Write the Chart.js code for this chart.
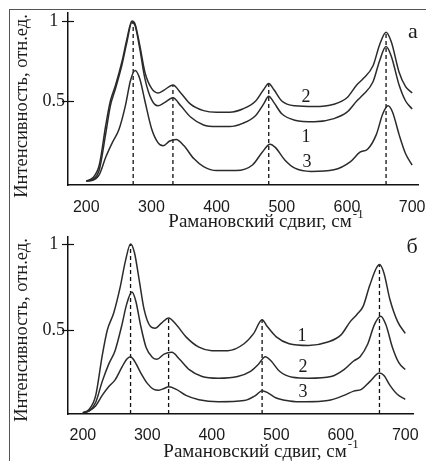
<!DOCTYPE html>
<html>
<head>
<meta charset="utf-8">
<script src="https://cdn.jsdelivr.net/npm/chart.js@4.4.0/dist/chart.umd.min.js"></script>
<style>
  body { margin: 0; background: #fff; width: 426px; height: 461px; overflow: hidden; }
  #frame { position: absolute; left: 9px; top: 9px; width: 430px; height: 460px;
           border-top: 1.5px solid #555; border-left: 1.5px solid #555; }
  .box { position: absolute; left: 0; width: 426px; }
</style>
</head>
<body>
<div id="frame"></div>
<div class="box" style="top:0;height:230px"><canvas id="chartA"></canvas></div>
<div class="box" style="top:230px;height:231px"><canvas id="chartB"></canvas></div>
<script>
// Спектры КР, панель а
const shiftA1 = [200, 210, 220, 230, 237, 245, 255, 262, 270, 275, 282, 290, 300, 310, 320, 333, 345, 360, 380, 400, 420, 440, 460, 472, 480, 488, 500, 520, 550, 580, 600, 615, 625, 640, 650, 660, 668, 680, 690, 700];
const intA1   = [0.0, 0.01, 0.07, 0.3, 0.47, 0.58, 0.73, 0.86, 0.99, 0.97, 0.83, 0.64, 0.51, 0.47, 0.49, 0.52, 0.47, 0.4, 0.35, 0.34, 0.34, 0.36, 0.41, 0.48, 0.53, 0.49, 0.42, 0.38, 0.37, 0.39, 0.43, 0.5, 0.54, 0.62, 0.75, 0.84, 0.78, 0.6, 0.5, 0.45];
const shiftA2 = [200, 210, 220, 230, 237, 245, 255, 262, 270, 275, 282, 290, 300, 310, 320, 333, 345, 360, 380, 400, 420, 440, 460, 472, 480, 488, 500, 520, 550, 580, 600, 615, 625, 640, 650, 660, 668, 680, 690, 700];
const intA2   = [0.0, 0.02, 0.1, 0.35, 0.5, 0.6, 0.75, 0.88, 1.0, 0.98, 0.85, 0.68, 0.58, 0.55, 0.57, 0.6, 0.55, 0.48, 0.44, 0.43, 0.43, 0.45, 0.5, 0.57, 0.61, 0.57, 0.5, 0.47, 0.465, 0.48, 0.52, 0.6, 0.64, 0.72, 0.85, 0.93, 0.87, 0.68, 0.59, 0.55];
const shiftA3 = [200, 210, 220, 230, 240, 250, 260, 268, 275, 282, 290, 300, 310, 318, 328, 338, 350, 365, 380, 400, 430, 455, 470, 482, 490, 505, 520, 545, 580, 605, 620, 632, 645, 655, 663, 670, 680, 690, 700];
const intA3   = [0.0, 0.005, 0.04, 0.15, 0.24, 0.32, 0.47, 0.63, 0.69, 0.64, 0.5, 0.33, 0.24, 0.22, 0.25, 0.26, 0.22, 0.14, 0.09, 0.065, 0.065, 0.1, 0.18, 0.23, 0.21, 0.13, 0.08, 0.06, 0.07, 0.12, 0.18, 0.2, 0.29, 0.42, 0.47, 0.43, 0.29, 0.17, 0.1];
const peaksA    = [272, 333, 480, 660];
const peakTopsA = [1.0, 0.6, 0.61, 0.93];

// Спектры КР, панель б
const shiftB1 = [200, 210, 220, 230, 238, 248, 258, 266, 274, 280, 287, 295, 305, 312, 322, 333, 345, 360, 380, 400, 425, 450, 465, 478, 486, 500, 520, 550, 580, 600, 615, 625, 635, 645, 660, 667, 676, 688, 700];
const intB1   = [0.02, 0.04, 0.12, 0.35, 0.5, 0.6, 0.75, 0.9, 1.0, 0.95, 0.8, 0.62, 0.52, 0.51, 0.54, 0.57, 0.53, 0.46, 0.4, 0.38, 0.38, 0.42, 0.48, 0.56, 0.52, 0.46, 0.42, 0.41, 0.43, 0.47, 0.55, 0.59, 0.64, 0.76, 0.88, 0.83, 0.68, 0.55, 0.48];
const shiftB2 = [200, 210, 220, 230, 240, 250, 260, 268, 276, 282, 290, 298, 308, 315, 326, 338, 350, 365, 385, 410, 440, 460, 472, 483, 492, 505, 525, 550, 585, 605, 620, 630, 642, 652, 662, 670, 680, 690, 700];
const intB2   = [0.02, 0.03, 0.08, 0.2, 0.3, 0.38, 0.52, 0.65, 0.72, 0.67, 0.52, 0.4, 0.34, 0.33, 0.36, 0.37, 0.33, 0.27, 0.23, 0.22, 0.23, 0.26, 0.3, 0.345, 0.32, 0.26, 0.225, 0.22, 0.23, 0.27, 0.32, 0.345, 0.42, 0.53, 0.58, 0.53, 0.4, 0.31, 0.27];
const shiftB3 = [200, 210, 220, 230, 240, 250, 260, 268, 274, 280, 290, 300, 310, 318, 326, 333, 345, 360, 380, 410, 450, 468, 478, 487, 500, 520, 545, 580, 605, 620, 632, 645, 660, 667, 676, 688, 700];
const intB3   = [0.02, 0.03, 0.06, 0.12, 0.17, 0.21, 0.28, 0.33, 0.345, 0.32, 0.25, 0.19, 0.155, 0.15, 0.16, 0.17, 0.155, 0.12, 0.095, 0.083, 0.09, 0.12, 0.147, 0.135, 0.105, 0.088, 0.083, 0.09, 0.12, 0.145, 0.155, 0.2, 0.25, 0.235, 0.18, 0.125, 0.097];
const peaksB    = [274, 333, 478, 660];
const peakTopsB = [1.0, 0.57, 0.56, 0.88];

const xTicks = [200, 300, 400, 500, 600, 700];
const yTicks = [0.5, 1];

const xTitle = 'Рамановский сдвиг, см';
const xTitleSup = '-1';
const yTitle = 'Интенсивность, отн.ед.';

const serif = '"Liberation Serif", "Times New Roman", serif';
const sans = '"Liberation Sans", Arial, sans-serif';

function toPoints(xs, ys) {
    return xs.map((x, i) => ({ x: x, y: ys[i] }));
}

// Подписи, штрихи на оси Y, заголовки осей
const decorPlugin = {
    id: 'decor',
    afterDraw(chart, args, opts) {
        const ctx = chart.ctx;
        const yScale = chart.scales.y;
        const area = chart.chartArea;
        ctx.save();
        ctx.strokeStyle = '#111';
        ctx.lineWidth = 1.2;
        yScale.ticks.forEach(t => {
            const py = Math.round(yScale.getPixelForValue(t.value)) + 0.5;
            ctx.beginPath();
            ctx.moveTo(area.left - 6, py);
            ctx.lineTo(area.left + 6, py);
            ctx.stroke();
        });

        ctx.fillStyle = '#1a1a1a';
        // заголовок оси Y
        ctx.save();
        ctx.translate(opts.yTitleX, opts.yTitleY);
        ctx.rotate(-Math.PI / 2);
        ctx.font = '18.5px ' + serif;
        ctx.textAlign = 'center';
        ctx.textBaseline = 'middle';
        ctx.fillText(yTitle, 0, 0);
        ctx.restore();

        // заголовок оси X с верхним индексом
        ctx.font = '19px ' + serif;
        const w1 = ctx.measureText(xTitle).width;
        ctx.font = '13px ' + serif;
        const w2 = ctx.measureText(xTitleSup).width;
        let sx = opts.xTitleX - (w1 + w2 + 1) / 2;
        ctx.textAlign = 'left';
        ctx.textBaseline = 'middle';
        ctx.font = '19px ' + serif;
        ctx.fillText(xTitle, sx, opts.xTitleY);
        ctx.font = '13px ' + serif;
        ctx.fillText(xTitleSup, sx + w1 + 1, opts.xTitleY - 7);

        // буква панели и номера кривых
        ctx.textAlign = 'center';
        ctx.font = '22px ' + serif;
        ctx.fillText(opts.letter, opts.letterX, opts.letterY);
        ctx.font = '18px ' + serif;
        opts.labels.forEach(l => ctx.fillText(l.text, l.x, l.y));
        ctx.restore();
    }
};

function makeChart(id, curves, peaks, tops, range, layout, decor) {
    const datasets = curves.map(c => ({
        data: toPoints(c[0], c[1]),
        borderColor: '#2b2b2b',
        borderWidth: 1.5,
        pointRadius: 0,
        cubicInterpolationMode: 'monotone',
        fill: false
    }));
    peaks.forEach((p, i) => {
        datasets.push({
            data: [{ x: p, y: range.ymin }, { x: p, y: tops[i] }],
            borderColor: '#111',
            borderWidth: 1.3,
            borderDash: [4, 3],
            pointRadius: 0,
            fill: false
        });
    });
    return new Chart(document.getElementById(id), {
        type: 'line',
        data: { datasets: datasets },
        plugins: [decorPlugin],
        options: {
            responsive: true,
            maintainAspectRatio: false,
            animation: false,
            layout: { padding: { top: layout.top, right: layout.right, left: 0, bottom: 0 } },
            scales: {
                x: {
                    type: 'linear',
                    min: range.xmin,
                    max: range.xmax,
                    afterBuildTicks: s => { s.ticks = xTicks.map(v => ({ value: v })); },
                    afterFit: s => { s.height = layout.xHeight; s.paddingLeft = 0; s.paddingRight = 0; },
                    grid: { display: false, drawTicks: false },
                    border: { display: true, color: '#111', width: 1.5 },
                    ticks: {
                        autoSkip: false,
                        maxRotation: 0,
                        padding: layout.xPad,
                        color: '#1a1a1a',
                        font: { family: sans, size: 16 }
                    }
                },
                y: {
                    type: 'linear',
                    min: range.ymin,
                    max: range.ymax,
                    afterBuildTicks: s => { s.ticks = yTicks.map(v => ({ value: v })); },
                    afterFit: s => { s.width = 68; s.paddingTop = 0; s.paddingBottom = 0; },
                    grid: { display: false, drawTicks: false },
                    border: { display: true, color: '#111', width: 1.5 },
                    ticks: {
                        padding: 3,
                        crossAlign: 'center',
                        color: '#1a1a1a',
                        font: { family: serif, size: 18 },
                        callback: v => String(v)
                    }
                }
            },
            plugins: {
                legend: { display: false },
                tooltip: { enabled: false },
                decor: decor
            }
        }
    });
}

makeChart('chartA',
    [[shiftA1, intA1], [shiftA2, intA2], [shiftA3, intA3]],
    peaksA, peakTopsA,
    { xmin: 172, xmax: 709, ymin: -0.025, ymax: 1.05 },
    { top: 13, right: 8, xHeight: 45, xPad: 13 },
    {
        yTitleX: 22, yTitleY: 106, xTitleX: 266, xTitleY: 222,
        letter: 'а', letterX: 413, letterY: 32,
        labels: [{ text: '2', x: 306, y: 97 }, { text: '1', x: 306, y: 137 }, { text: '3', x: 307, y: 162 }]
    });

makeChart('chartB',
    [[shiftB1, intB1], [shiftB2, intB2], [shiftB3, intB3]],
    peaksB, peakTopsB,
    { xmin: 177, xmax: 712, ymin: 0.012, ymax: 1.04 },
    { top: 7, right: 13, xHeight: 47, xPad: 12 },
    {
        yTitleX: 22, yTitleY: 100, xTitleX: 261, xTitleY: 222,
        letter: 'б', letterX: 412, letterY: 17,
        labels: [{ text: '1', x: 302, y: 106 }, { text: '2', x: 303, y: 137 }, { text: '3', x: 303, y: 162 }]
    });
</script>
</body>
</html>
